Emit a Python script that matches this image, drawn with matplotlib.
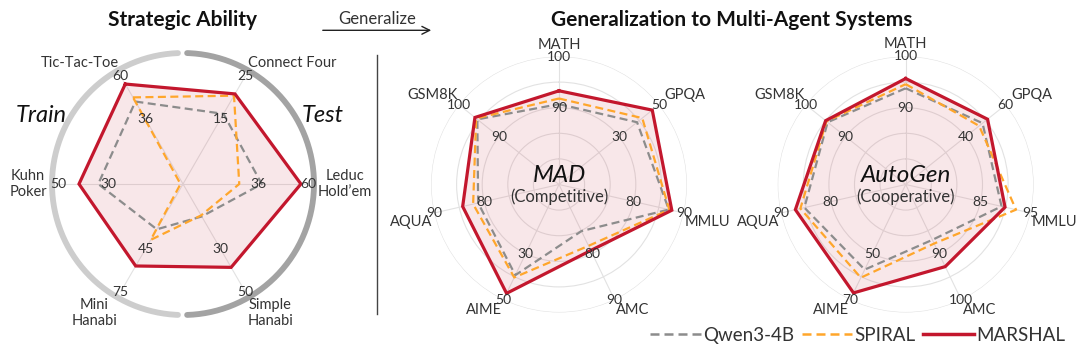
import numpy as np
import matplotlib
matplotlib.use("Agg")
import matplotlib.pyplot as plt
from matplotlib.lines import Line2D
from matplotlib.patches import FancyArrowPatch

plt.rcParams['font.family'] = ['Lato', 'DejaVu Sans']

# ---------------- data ----------------
# Strategic Ability (each axis: tick values at 60% and 100% of radius)
sa_axes = ['Tic-Tac-Toe', 'Connect Four', 'Leduc\nHold\u2019em', 'Simple\nHanabi', 'Mini\nHanabi', 'Kuhn\nPoker']
sa_tick_low = [36, 15, 36, 30, 45, 30]
sa_tick_high = [60, 25, 60, 50, 75, 50]
sa_qwen = [45.7, 16.2, 37.8, 15.0, 31.4, 33.9]
sa_spiral = [48.0, 20.4, 27.0, 14.5, 38.7, 1.0]
sa_marshal = [55.4, 20.8, 56.6, 38.5, 56.8, 41.6]

# MAD (Competitive)
mas_axes = ['MATH', 'GPQA', 'MMLU', 'AMC', 'AIME', 'AQUA', 'GSM8K']
mad_tick_low = [90, 30, 80, 80, 30, 80, 90]
mad_tick_high = [100, 50, 90, 90, 50, 90, 100]
mad_qwen = [90.7, 39.0, 87.0, 75.1, 39.3, 81.2, 95.4]
mad_spiral = [91.8, 41.6, 87.1, 78.3, 40.3, 82.2, 95.7]
mad_marshal = [93.3, 46.6, 87.6, 79.3, 47.2, 84.3, 96.0]

# AutoGen (Cooperative)
ag_tick_low = [90, 40, 85, 90, 50, 80, 90]
ag_tick_high = [100, 60, 95, 100, 70, 90, 100]
ag_qwen = [93.8, 48.4, 89.2, 87.0, 56.9, 85.3, 94.5]
ag_spiral = [94.6, 46.7, 92.1, 87.8, 60.4, 86.1, 94.8]
ag_marshal = [95.7, 50.9, 89.9, 92.8, 67.0, 87.1, 95.0]

series_names = ['Qwen3-4B', 'SPIRAL', 'MARSHAL']

# ---------------- style ----------------
C_QWEN = '#8c8c8c'
C_SPIRAL = '#ffa62b'
C_MARSHAL = '#c3172d'
GRID = '#e2e2e2'
TXT = '#333333'

W, H = 1080, 359
fig = plt.figure(figsize=(W / 100, H / 100), dpi=100)


def frac(vals, lo, hi):
    return [0.6 + 0.4 * (v - a) / (b - a) for v, a, b in zip(vals, lo, hi)]


def make_radar(cx, cy, R, first_deg, lo, hi, qwen, spiral, marshal):
    ax = fig.add_axes([(cx - R) / W, (H - cy - R) / H, 2 * R / W, 2 * R / H], projection='polar')
    n = len(lo)
    th = np.linspace(0, 2 * np.pi, n, endpoint=False)
    ax.set_theta_offset(np.radians(first_deg))
    ax.set_theta_direction(-1)
    ax.set_ylim(0, 1)
    ax.set_yticks([0.2, 0.4, 0.6, 0.8, 1.0])
    ax.set_yticklabels([])
    ax.set_xticks(th)
    ax.set_xticklabels([])
    ax.grid(color=GRID, lw=0.8)
    ax.spines['polar'].set_visible(False)
    ax.patch.set_alpha(0)
    thc = np.append(th, 2 * np.pi)

    def closed(v):
        return np.append(v, v[0])

    fq = frac(qwen, lo, hi)
    fs = frac(spiral, lo, hi)
    fm = frac(marshal, lo, hi)
    ax.fill(thc, closed(fm), color=C_MARSHAL, alpha=0.1, lw=0, zorder=2)
    ax.plot(thc, closed(fq), color=C_QWEN, lw=1.6, ls=(0, (3.6, 2.0)), zorder=3, clip_on=False)
    ax.plot(thc, closed(fs), color=C_SPIRAL, lw=1.6, ls=(0, (3.6, 2.0)), zorder=4, clip_on=False)
    ax.plot(thc, closed(fm), color=C_MARSHAL, lw=2.3, zorder=5, clip_on=False, solid_joinstyle='miter')
    for t, a, b in zip(th, lo, hi):
        ax.text(t, 0.6, str(a), ha='center', va='center', fontsize=10, color=TXT, zorder=6)
        ax.text(t, 1.0, str(b), ha='center', va='center', fontsize=10, color=TXT, zorder=6)
    return ax, th


# ---- Strategic Ability radar ----
ax1, th1 = make_radar(183, 184, 125, 120, sa_tick_low, sa_tick_high, sa_qwen, sa_spiral, sa_marshal)
sa_label_pos = [((-2, 13), 'right', 'center'), ((3, 13), 'left', 'center'),
                ((10, 0), 'left', 'center'), ((2, -21), 'left', 'center'),
                ((-3, -21), 'right', 'center'), ((-11, 0), 'right', 'center')]
for t, name, (off, ha, va) in zip(th1, sa_axes, sa_label_pos):
    ax1.annotate(name, xy=(t, 1.0), xytext=off, textcoords='offset pixels', ha=ha, va=va,
                 multialignment='center', fontsize=10.5, color=TXT, annotation_clip=False)
# Train / Test rings (display angles converted to this axes' theta)
rr = 131 / 125
ta = np.radians(120 - np.linspace(92.2, 267.8, 200))
tb = np.radians(120 - np.linspace(-88.2, 88.2, 200))
ax1.plot(ta, np.full_like(ta, rr), color='#cdcdcd', lw=4.2, clip_on=False, solid_capstyle='round', zorder=1)
ax1.plot(tb, np.full_like(tb, rr), color='#a3a3a3', lw=4.2, clip_on=False, solid_capstyle='round', zorder=1)
ax1.set_xlim(0, 2 * np.pi)
ax1.set_ylim(0, 1)
fig.text(41.7 / W, 1 - 115 / H, 'Train', ha='center', va='center', fontsize=17, style='italic', color='#111111')
fig.text(322.5 / W, 1 - 115 / H, 'Test', ha='center', va='center', fontsize=17, style='italic', color='#111111')

# ---- MAD & AutoGen radars ----
mas_label_pos = [((0, 12), 'center', 'center'), ((26, 10), 'center', 'center'),
                 ((24, -9), 'center', 'center'), ((18, -10), 'center', 'center'),
                 ((-19, -10), 'center', 'center'), ((-23, -9), 'center', 'center'),
                 ((-26, 10), 'center', 'center')]
for cx, lo, hi, q, s, m, title, sub in [
        (559, mad_tick_low, mad_tick_high, mad_qwen, mad_spiral, mad_marshal, 'MAD', '(Competitive)'),
        (905.7, ag_tick_low, ag_tick_high, ag_qwen, ag_spiral, ag_marshal, 'AutoGen', '(Cooperative)')]:
    ax, th = make_radar(cx, 184.5, 128, 90, lo, hi, q, s, m)
    ax.set_xlim(0, 2 * np.pi)
    ax.set_ylim(0, 1)
    for t, name, (off, ha, va) in zip(th, mas_axes, mas_label_pos):
        ax.annotate(name, xy=(t, 1.0), xytext=off, textcoords='offset pixels', ha=ha, va=va,
                    fontsize=10.5, color=TXT, annotation_clip=False)
    fig.text(cx / W, 1 - 175 / H, title, ha='center', va='center', fontsize=17.5, style='italic', color='#111111')
    fig.text(cx / W, 1 - 196.5 / H, sub, ha='center', va='center', fontsize=12, color=TXT)

# ---- titles, arrow, divider ----
fig.text(182.5 / W, 1 - 20.5 / H, 'Strategic Ability', ha='center', va='center', fontsize=15,
         fontweight='bold', color='#111111')
fig.text(731.7 / W, 1 - 20.5 / H, 'Generalization to Multi-Agent Systems', ha='center', va='center',
         fontsize=15, fontweight='bold', color='#111111')
fig.text(377 / W, 1 - 19 / H, 'Generalize', ha='center', va='center', fontsize=12, color=TXT)
fig.add_artist(FancyArrowPatch((320 / W, 1 - 30.3 / H), (434 / W, 1 - 30.3 / H), transform=fig.transFigure,
                               arrowstyle='->', mutation_scale=14, lw=1.0, color='#222222'))
fig.add_artist(Line2D([376.7 / W] * 2, [1 - 55 / H, 1 - 314 / H], transform=fig.transFigure,
                      color='#444444', lw=1.0))

# ---- legend ----
handles = [Line2D([], [], color=C_QWEN, lw=1.8, ls=(0, (3.6, 2.0))),
           Line2D([], [], color=C_SPIRAL, lw=1.8, ls=(0, (3.6, 2.0))),
           Line2D([], [], color=C_MARSHAL, lw=2.5)]
fig.legend(handles, series_names, loc='lower right', bbox_to_anchor=(1078 / W, 2 / H), ncol=3,
           frameon=False, fontsize=13.5, handlelength=2.7, handletextpad=0.12, columnspacing=0.4,
           borderpad=0.2, labelcolor=TXT)

fig.savefig('out.png', dpi=100)
